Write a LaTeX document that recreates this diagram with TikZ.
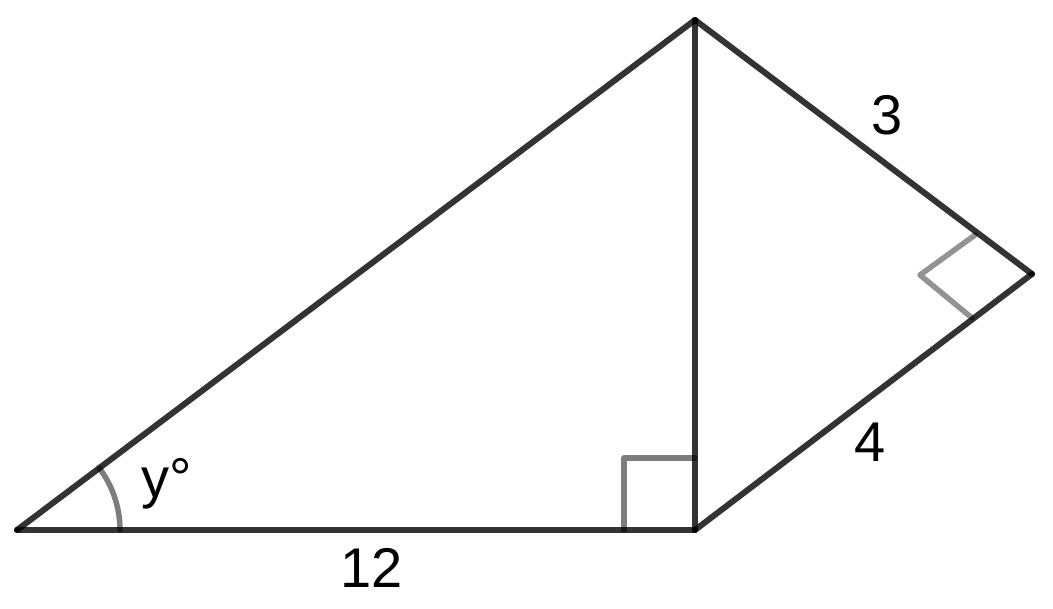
\documentclass[tikz,border=0pt]{standalone}
\usepackage{fontspec}
\setmainfont{Liberation Sans}
\begin{document}
\begin{tikzpicture}[x=1pt,y=1pt,
  edge/.style={line width=6pt,draw=black,draw opacity=0.8,line cap=round,line join=round},
  anglemark/.style={line width=5.5pt,draw=black!50,draw opacity=0.85,line cap=round,line join=round},
  lbl/.style={font=\fontsize{56}{56}\selectfont,inner sep=0pt}]
\useasboundingbox (0,0) rectangle (1053,609);
\coordinate (A) at (17,79);
\coordinate (B) at (695,79);
\coordinate (C) at (695,589);
\coordinate (D) at (1032,335);
\coordinate (Q1) at (975,374);
\coordinate (Q2) at (920,334);
\coordinate (Q3) at (972,291);
\draw[anglemark,draw=black!60] (624,79) -- (624,151) -- (695,151);
\draw[anglemark] (Q1) -- (Q2) -- (Q3);
\draw[anglemark,draw=black!60] (120,79) arc[start angle=0,end angle=37,radius=103];
\draw[edge] (A) -- (B);
\draw[edge] (A) -- (C);
\draw[edge] (B) -- (C);
\draw[edge] (C) -- (D);
\draw[edge] (B) -- (D);
\node[lbl] (l3) at (887,494) {3};
\node[lbl] (l4) at (870,167) {4};
\node[lbl] (l12) at (372,41) {12};
\node[lbl] (ly) at (167,125) {y°};
\end{tikzpicture}
\end{document}
